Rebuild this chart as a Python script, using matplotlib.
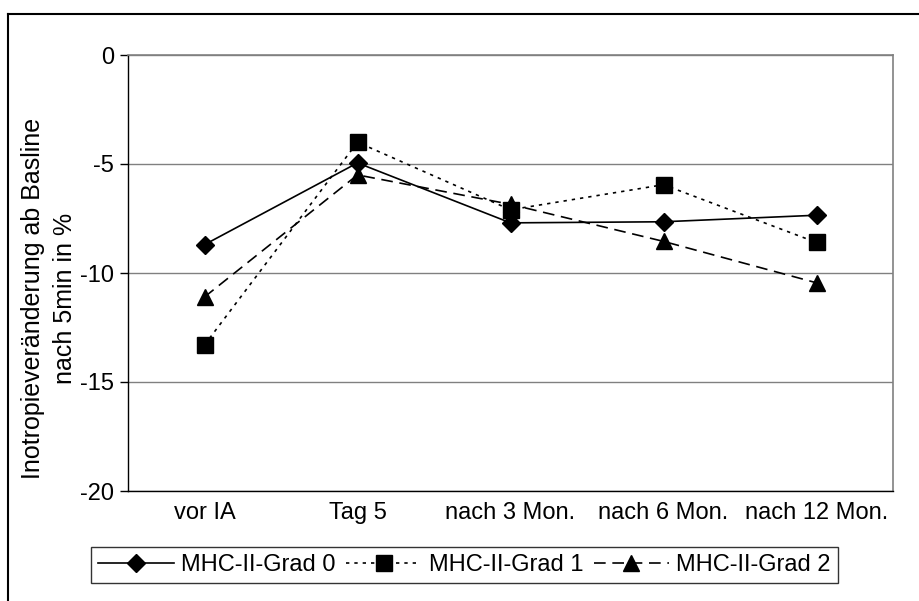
import matplotlib
matplotlib.use("Agg")
import matplotlib.pyplot as plt
from matplotlib.lines import Line2D
import numpy as np

plt.rcParams['font.family'] = ['Liberation Sans', 'DejaVu Sans']

# ── Data ──
categories = ["vor IA", "Tag 5", "nach 3 Mon.", "nach 6 Mon.", "nach 12 Mon."]
grad0 = [-8.7, -4.95, -7.7, -7.65, -7.35]
grad1 = [-13.3, -4.0, -7.1, -5.95, -8.6]
grad2 = [-11.1, -5.5, -6.85, -8.55, -10.45]
yticks = [0, -5, -10, -15, -20]

W, H = 919, 601
fig = plt.figure(figsize=(W / 100, H / 100), dpi=100)
ax = fig.add_axes([128 / W, 1 - 491 / H, (893 - 128) / W, (491 - 55) / H])

x = np.arange(len(categories))
l0, = ax.plot(x, grad0, color='black', lw=1.2, ls='-', marker='D', ms=9,
              label='MHC-II-Grad 0')
l1, = ax.plot(x, grad1, color='black', lw=1.2, ls=(0, (2, 3)), marker='s', ms=11,
              label='MHC-II-Grad 1')
l2, = ax.plot(x, grad2, color='black', lw=1.2, ls=(0, (7, 4)), marker='^', ms=12,
              label='MHC-II-Grad 2')

ax.set_xlim(-0.5, len(categories) - 0.5)
ax.set_ylim(-20, 0)
ax.set_yticks(yticks)
ax.set_yticklabels([str(v) for v in yticks])
ax.set_xticks(x)
ax.set_xticklabels(categories)
ax.tick_params(axis='y', length=6, width=1, pad=4, labelsize=17)
ax.tick_params(axis='x', length=0, pad=8, labelsize=17)
ax.yaxis.grid(True, color='#808080', lw=1)
ax.set_axisbelow(True)

for side in ['top', 'right']:
    ax.spines[side].set_color('#808080')
    ax.spines[side].set_linewidth(1.2)
for side in ['left', 'bottom']:
    ax.spines[side].set_color('black')
    ax.spines[side].set_linewidth(1)

fig.text(49 / W, 1 - 298 / H, "Inotropieveränderung ab Basline\nnach 5min in %",
         rotation=90, ha='center', va='center', multialignment='center',
         fontsize=18, linespacing=1.4)

leg = fig.legend(handles=[l0, l1, l2], loc='center', ncol=3,
                 bbox_to_anchor=(464.5 / W, 1 - 565 / H), bbox_transform=fig.transFigure,
                 fontsize=17, frameon=True, fancybox=False, handlelength=3.2,
                 handletextpad=0.3, columnspacing=0.45, borderpad=0.3)
leg.get_frame().set_edgecolor('black')
leg.get_frame().set_linewidth(1)

# outer chart frame (only top and left edges are inside the picture)
fig.add_artist(Line2D([8 / W, 1.0], [1 - 14 / H, 1 - 14 / H], color='black', lw=1.5,
                      transform=fig.transFigure))
fig.add_artist(Line2D([8 / W, 8 / W], [1 - 14 / H, 0.0], color='black', lw=1.5,
                      transform=fig.transFigure))

fig.savefig("out.png", dpi=100)
